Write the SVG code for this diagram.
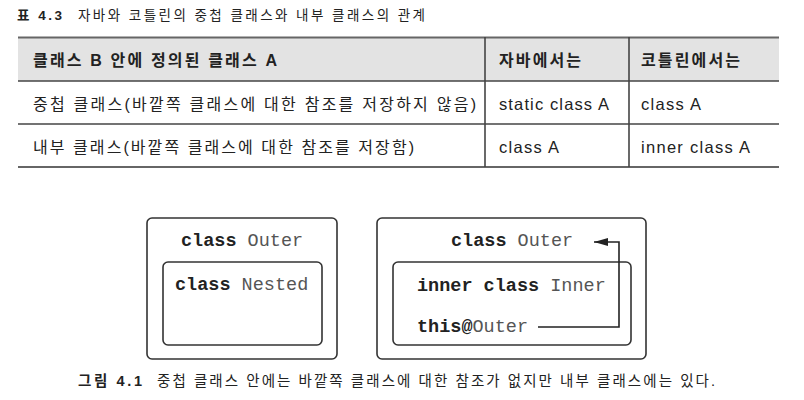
<svg xmlns="http://www.w3.org/2000/svg" width="804" height="400" viewBox="0 0 804 400">
<style>
.t{font-family:"Liberation Sans","Noto Sans CJK KR",sans-serif;fill:#222}
.b{font-weight:bold}
.m{font-family:"Liberation Mono","DejaVu Sans Mono",monospace;font-size:18.5px;fill:#555}
.kw{font-weight:bold;fill:#222}
.box{fill:none;stroke:#333;stroke-width:1.6}
.rule{stroke:#444;stroke-width:1.6}
.rule2{stroke:#666;stroke-width:2.2}
.conn{fill:none;stroke:#222;stroke-width:1.6}
</style>
<defs>
<marker id="ah" viewBox="0 0 14 8" refX="14" refY="4" markerWidth="14" markerHeight="8" markerUnits="userSpaceOnUse" orient="auto">
<path d="M0,0 L14,4 L0,8 z" fill="#222"/>
</marker>
</defs>
<rect width="804" height="400" fill="#fff"/>

<g id="title">
<text class="t b" x="17" y="20" font-size="13.5" textLength="45" lengthAdjust="spacing">표 4.3</text>
<text class="t" x="78" y="20" font-size="13.5" textLength="347" lengthAdjust="spacing">자바와 코틀린의 중첩 클래스와 내부 클래스의 관계</text>
</g>

<g id="table">
<rect x="18" y="37" width="761" height="44" fill="#e3e3e3"/>
<line class="rule2" x1="18" y1="37.5" x2="779" y2="37.5"/>
<line class="rule" x1="18" y1="81" x2="779" y2="81"/>
<line class="rule" x1="18" y1="124" x2="779" y2="124"/>
<line class="rule2" x1="18" y1="167" x2="779" y2="167"/>
<line class="rule" x1="485" y1="37" x2="485" y2="167"/>
<line class="rule" x1="629" y1="37" x2="629" y2="167"/>
<text class="t b" x="33" y="66" font-size="16" textLength="244" lengthAdjust="spacing">클래스 B 안에 정의된 클래스 A</text>
<text class="t b" x="499" y="66" font-size="16" textLength="82" lengthAdjust="spacing">자바에서는</text>
<text class="t b" x="641" y="66" font-size="16" textLength="99" lengthAdjust="spacing">코틀린에서는</text>
<text class="t" x="33" y="110" font-size="16" textLength="443" lengthAdjust="spacing">중첩 클래스(바깥쪽 클래스에 대한 참조를 저장하지 않음)</text>
<text class="t" x="499" y="110" font-size="16.5" textLength="110" lengthAdjust="spacing">static class A</text>
<text class="t" x="641" y="110" font-size="16.5" textLength="60" lengthAdjust="spacing">class A</text>
<text class="t" x="33" y="153" font-size="16" textLength="381" lengthAdjust="spacing">내부 클래스(바깥쪽 클래스에 대한 참조를 저장함)</text>
<text class="t" x="499" y="153" font-size="16.5" textLength="60" lengthAdjust="spacing">class A</text>
<text class="t" x="641" y="153" font-size="16.5" textLength="109" lengthAdjust="spacing">inner class A</text>
</g>

<g id="outer-left">
<rect class="box" x="147" y="218" width="190" height="141" rx="5"/>
<text class="m" x="181" y="246"><tspan class="kw">class</tspan> Outer</text>
</g>
<g id="nested">
<rect class="box" x="163" y="262" width="159" height="83" rx="5"/>
<text class="m" x="175" y="290"><tspan class="kw">class</tspan> Nested</text>
</g>

<g id="outer-right">
<rect class="box" x="377" y="218" width="269" height="141" rx="5"/>
<text class="m" x="451" y="246"><tspan class="kw">class</tspan> Outer</text>
</g>
<g id="inner">
<rect class="box" x="393" y="262" width="238" height="83" rx="5"/>
<text class="m" x="417" y="291"><tspan class="kw">inner class</tspan> Inner</text>
<text class="m" x="417" y="332"><tspan class="kw">this@</tspan>Outer</text>
</g>

<g id="connectors">
<path class="conn" d="M538,327 H619 V242 H594" marker-end="url(#ah)"/>
</g>

<g id="caption">
<text class="t b" x="78" y="386" font-size="14.5" textLength="64" lengthAdjust="spacing">그림 4.1</text>
<text class="t" x="157" y="386" font-size="14.5" textLength="558" lengthAdjust="spacing">중첩 클래스 안에는 바깥쪽 클래스에 대한 참조가 없지만 내부 클래스에는 있다.</text>
</g>
</svg>
